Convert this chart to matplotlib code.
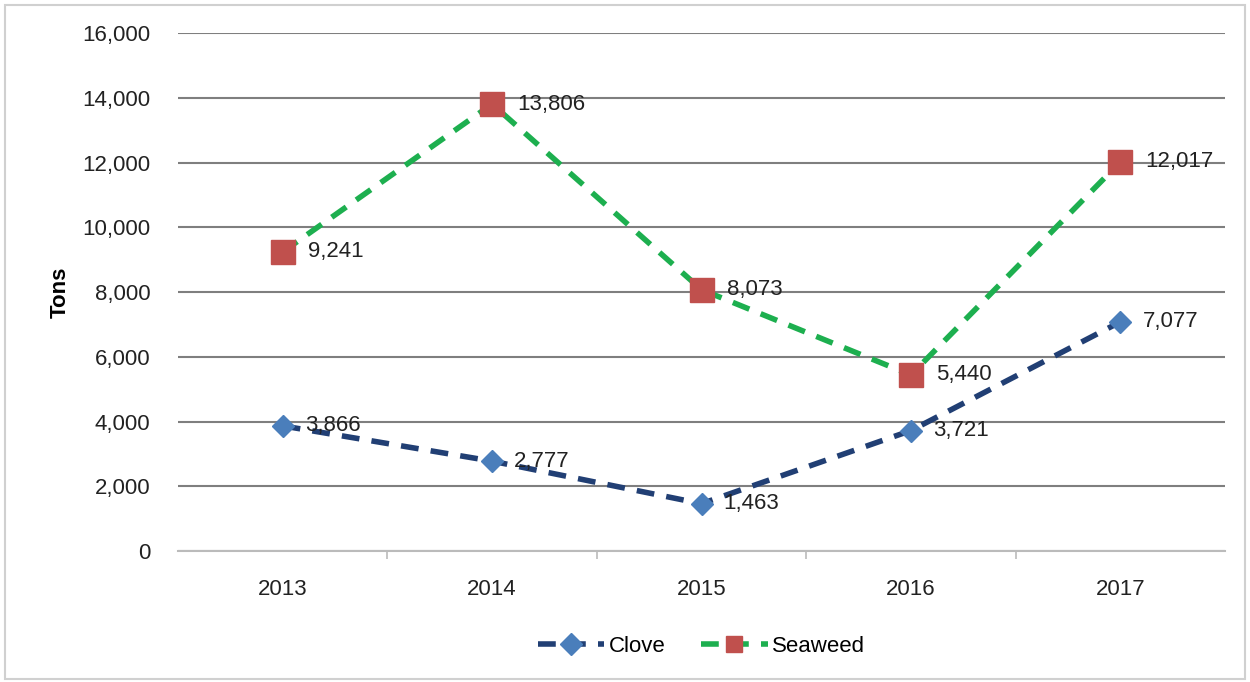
import matplotlib.pyplot as plt
from matplotlib.patches import Rectangle

plt.rcParams['font.family'] = ['Liberation Sans', 'DejaVu Sans']

years = ['2013', '2014', '2015', '2016', '2017']
clove = [3866, 2777, 1463, 3721, 7077]
seaweed = [9241, 13806, 8073, 5440, 12017]
yticks = [0, 2000, 4000, 6000, 8000, 10000, 12000, 14000, 16000]

fig = plt.figure(figsize=(12.5, 6.82), dpi=100)
ax = fig.add_axes([0.1424, 0.192, 0.8376, 0.7596])

x = list(range(len(years)))
ax.plot(x, clove, color='#213F74', lw=4, dashes=(3.2, 2.2),
        marker='D', ms=11, mfc='#4A7EBB', mec='#4A7EBB', label='Clove', zorder=3)
ax.plot(x, seaweed, color='#1DAF4F', lw=4, dashes=(3.2, 2.2),
        marker='s', ms=17, mfc='#C0504D', mec='#C0504D', label='Seaweed', zorder=3)

# data labels to the right of markers
for xi, v in zip(x, clove):
    ax.annotate(f'{v:,}', (xi, v), xytext=(16, 0), textcoords='offset points',
                va='center', ha='left', fontsize=16, color='#222222', zorder=4)
for xi, v in zip(x, seaweed):
    ax.annotate(f'{v:,}', (xi, v), xytext=(18, 0), textcoords='offset points',
                va='center', ha='left', fontsize=16, color='#222222', zorder=4)

ax.set_xlim(-0.5, len(years) - 0.5)
ax.set_ylim(0, 16000)
ax.set_yticks(yticks)
ax.set_yticklabels([f'{t:,}' for t in yticks], fontsize=16, color='#222222')
ax.set_xticks(x)
ax.set_xticklabels(years, fontsize=16, color='#222222')
ax.tick_params(axis='x', length=0, pad=20)
ax.tick_params(axis='y', length=0, pad=20)
ax.set_xticks([i + 0.5 for i in x[:-1]], minor=True)
ax.tick_params(axis='x', which='minor', length=6, color='#BBBBBB', width=1.2)

ax.grid(axis='y', color='#7F7F7F', lw=1.5)
ax.set_axisbelow(True)
for s in ['top', 'right', 'left']:
    ax.spines[s].set_visible(False)
ax.spines['bottom'].set_color('#BBBBBB')
ax.spines['bottom'].set_linewidth(1.5)

ax.set_ylabel('Tons', fontsize=16, fontweight='bold', labelpad=8)

leg = ax.legend(loc='upper center', bbox_to_anchor=(0.5, -0.125), ncol=2,
                frameon=False, fontsize=16, handlelength=3.0, columnspacing=1.6,
                handletextpad=0.2)
for line in leg.get_lines():
    line.set_markersize(11)

fig.patches.append(Rectangle((0.004, 0.004), 0.992, 0.988, transform=fig.transFigure,
                             fill=False, edgecolor='#D0D0D0', lw=1.5))

fig.savefig('out.png', dpi=100)
